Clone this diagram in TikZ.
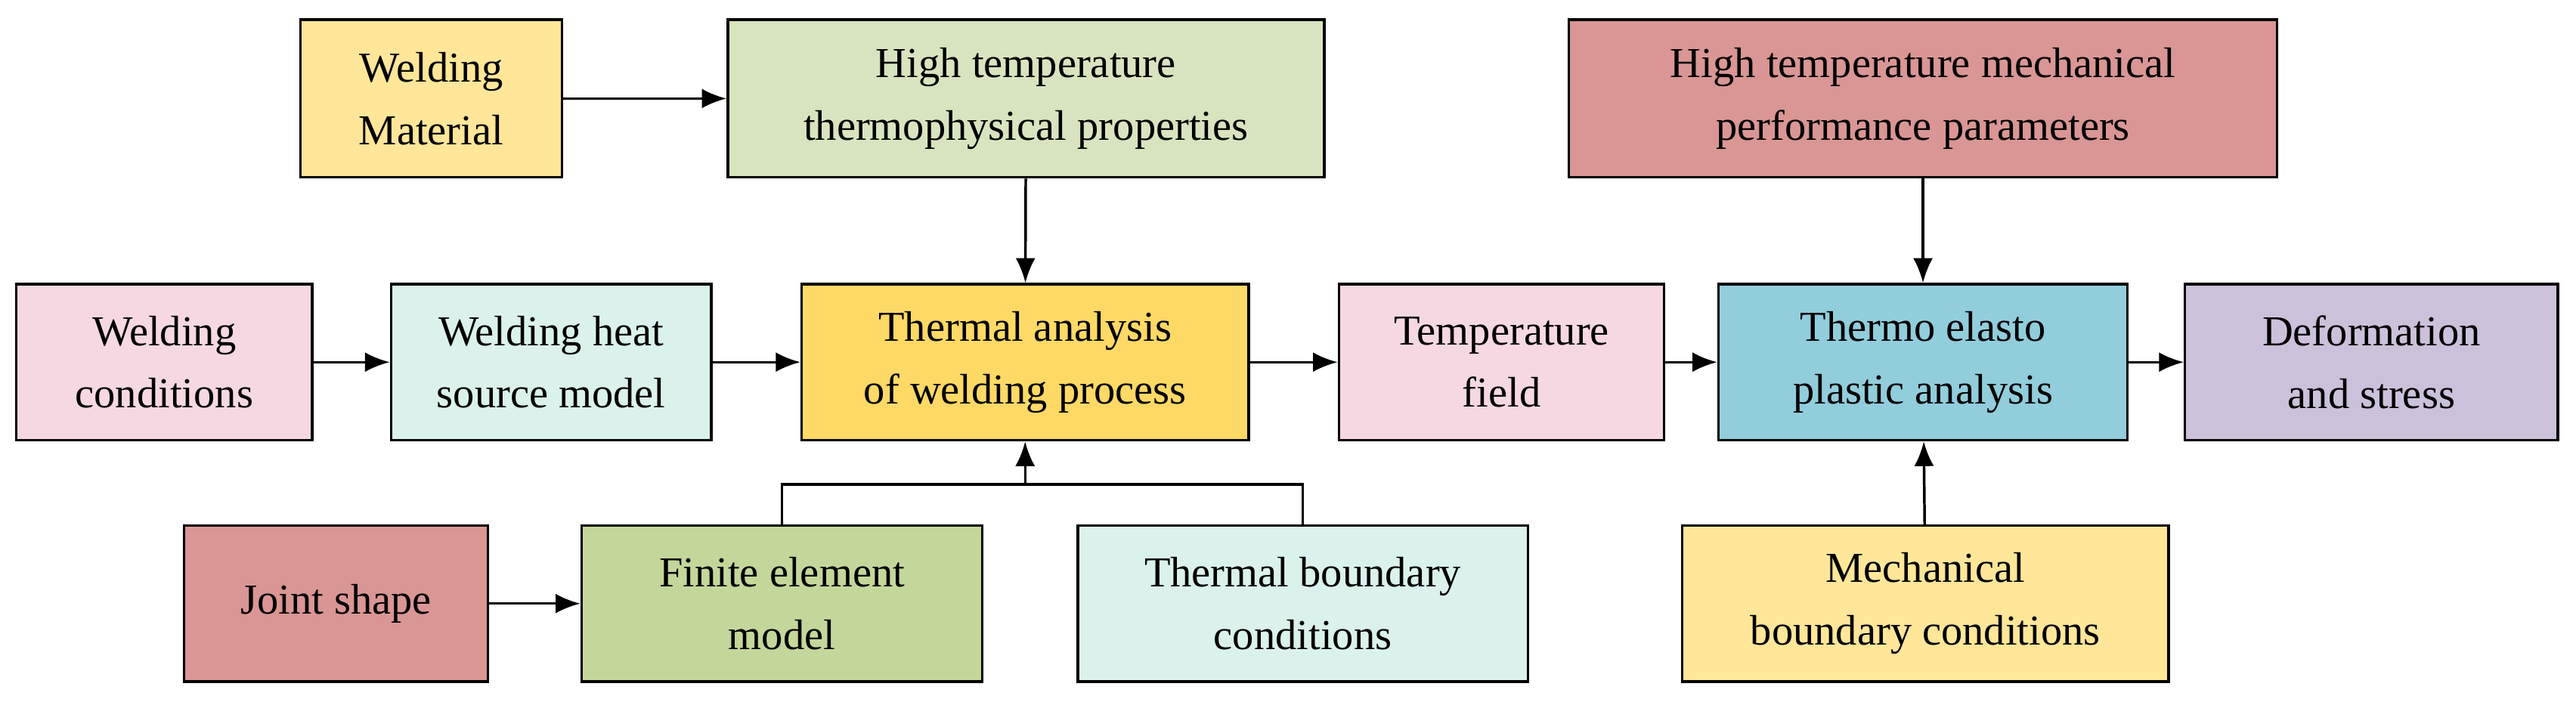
\documentclass[tikz,border=0pt]{standalone}
\usepackage{fontspec}
\setmainfont{Liberation Serif}
\usetikzlibrary{arrows.meta}
\definecolor{cyel}{HTML}{FFE699}
\definecolor{cgrn}{HTML}{D8E4BF}
\definecolor{crose}{HTML}{D99694}
\definecolor{cpink}{HTML}{F6D8E3}
\definecolor{cmint}{HTML}{DAF2EB}
\definecolor{cgold}{HTML}{FFD966}
\definecolor{cblue}{HTML}{92CDDC}
\definecolor{cpurp}{HTML}{CCC1DA}
\definecolor{cfgrn}{HTML}{C4D79B}
\tikzset{
  bx/.style={draw=black,line width=1.6pt,align=center,inner sep=0pt,font=\fontsize{26}{38}\selectfont},
  ar/.style={line width=1.6pt,-{Latex[length=15pt,width=12pt]}},
  ln/.style={line width=1.6pt}
}
\newcommand{\bxat}[7]{\node[bx,fill=#6,minimum width={#3-#2},minimum height={#5-#4}] (#1) at ({(#2+#3)/2},{(#4+#5)/2}) {#7};}
\begin{document}
\begin{tikzpicture}[x=1pt,y=-1pt]
\useasboundingbox (0,0) rectangle (1568,427);
\bxat{wm}{183}{342}{12}{108}{cyel}{Welding\\Material}
\bxat{htp}{443}{806}{12}{108}{cgrn}{High temperature\\thermophysical properties}
\bxat{htm}{955}{1386}{12}{108}{crose}{High temperature mechanical\\performance parameters}
\bxat{wc}{10}{190}{173}{268}{cpink}{Welding\\conditions}
\bxat{hs}{238}{433}{173}{268}{cmint}{Welding heat\\source model}
\bxat{ta}{488}{760}{173}{268}{cgold}{Thermal analysis\\of welding process}
\bxat{tf}{815}{1013}{173}{268}{cpink}{Temperature\\field}
\bxat{te}{1046}{1295}{173}{268}{cblue}{Thermo elasto\\plastic analysis}
\bxat{ds}{1330}{1557}{173}{268}{cpurp}{Deformation\\and stress}
\bxat{js}{112}{297}{320}{415}{crose}{Joint shape}
\bxat{fe}{354}{598}{320}{415}{cfgrn}{Finite element\\model}
\bxat{tb}{656}{930}{320}{415}{cmint}{Thermal boundary\\conditions}
\bxat{mb}{1024}{1320}{320}{415}{cyel}{Mechanical\\boundary conditions}
\draw[ar] (wm) -- (htp);
\draw[ar] (htp) -- (ta);
\draw[ar] (htm) -- (te);
\draw[ar] (wc) -- (hs);
\draw[ar] (hs) -- (ta);
\draw[ar] (ta) -- (tf);
\draw[ar] (tf) -- (te);
\draw[ar] (te) -- (ds);
\draw[ar] (js) -- (fe);
\draw[ar] (mb) -- (te);
\coordinate (jn) at (624,295);
\draw[ln] (fe.north -| 476,0) -- (476,295) -- (793,295) -- (tb.north -| 793,0);
\draw[ar] (jn) -- (ta.south -| jn);
\end{tikzpicture}
\end{document}
